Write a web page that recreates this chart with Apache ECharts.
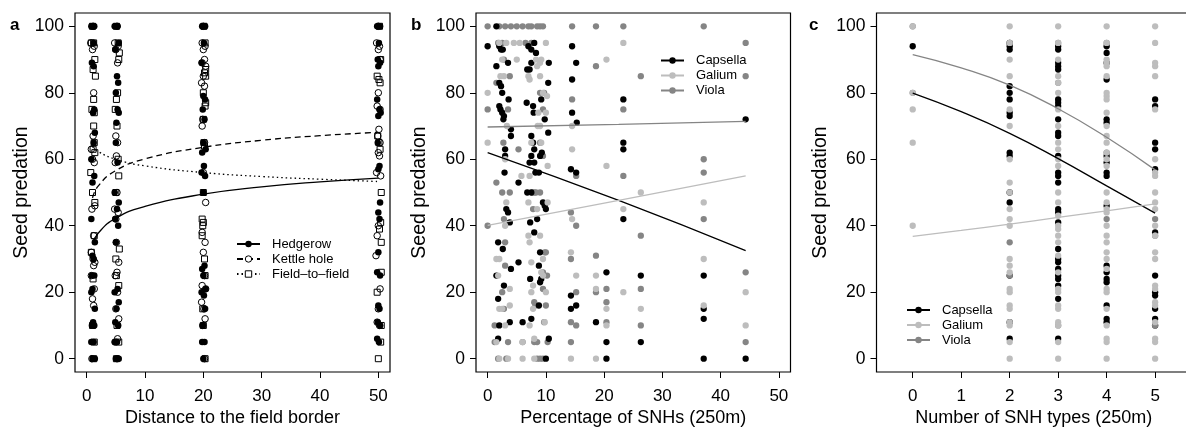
<!DOCTYPE html>
<html>
<head>
<meta charset="utf-8">
<script src="https://cdn.jsdelivr.net/npm/echarts@6/dist/echarts.min.js"></script>
<style>html,body{margin:0;padding:0;background:#fff}#c{width:1186px;height:428px}</style>
</head>
<body>
<div id="c"></div>
<script>
// ---------- tick labels ----------
const xTicksA = [0, 10, 20, 30, 40, 50];
const xTicksB = [0, 10, 20, 30, 40, 50];
const xTicksC = [0, 1, 2, 3, 4, 5];
const yTicks = [0, 20, 40, 60, 80, 100];

// ---------- panel a: points (distance, predation) ----------
const hedgerowPts = [
 [1.0,100],[1.3,100],[0.8,100],[1.2,95],[0.9,89],[1.2,88],[1.3,75],[1.1,74],[1.4,68],[1.2,65],[0.8,60],[1.3,55],[1.0,53],[0.8,42],[1.4,35],[1.0,31],[1.2,30],[0.9,25],[1.3,25],[1.0,21],[0.8,20],[1.4,15],[1.1,11],[1.3,10],[0.9,10],[1.2,5],[0.8,5],[1.0,0],[1.4,0],
 [4.8,100],[5.3,100],[5.5,95],[4.9,93],[5.2,85],[5.4,83],[5.0,80],[5.3,75],[5.5,74],[5.1,71],[5.0,65],[5.3,59],[4.8,50],[5.5,47],[5.2,45],[4.9,42],[5.4,40],[5.0,35],[5.3,21],[4.8,20],[5.5,17],[5.1,15],[4.9,11],[5.4,10],[5.2,5],[4.8,5],[5.0,0],[5.5,0],
 [19.8,100],[20.3,100],[20.1,95],[19.7,89],[20.0,79],[20.3,78],[19.9,75],[20.2,72],[20.0,65],[20.4,63],[19.8,62],[20.1,58],[19.7,56],[20.3,55],[20.0,50],[20.2,28],[19.8,27],[20.0,25],[20.4,21],[19.7,20],[20.1,19],[20.3,15],[19.9,10],[20.2,5],[19.8,5],[20.0,0],
 [49.8,100],[50.3,100],[50.1,95],[49.9,90],[50.3,89],[50.0,88],[49.8,78],[50.2,75],[50.4,74],[50.0,73],[49.9,65],[50.2,58],[50.0,57],[50.3,47],[50.0,44],[50.2,42],[50.0,32],[49.8,26],[50.3,25],[50.0,16],[50.2,15],[49.9,11],[50.3,10],[49.8,6],[50.1,5]
];
const kettlePts = [
 [1.1,100],[0.7,95],[1.3,94],[1.0,93],[1.2,80],[1.1,67],[0.8,63],[1.0,60],[1.3,59],[1.4,46],[0.9,45],[1.2,37],[0.8,32],[1.1,30],[1.4,29],[1.2,28],[0.8,25],[1.3,21],[1.0,18],[1.2,16],[0.9,0],
 [5.2,100],[4.8,95],[5.4,94],[5.0,93],[5.3,89],[5.0,67],[5.3,65],[5.1,61],[4.9,59],[5.2,50],[4.8,45],[5.4,44],[5.0,42],[5.1,35],[5.5,29],[5.2,26],[4.9,25],[5.3,20],[5.0,15],[5.5,12],[5.3,6],[4.9,5],[5.2,0],
 [20.0,100],[19.8,95],[20.3,94],[20.0,93],[20.2,90],[19.8,89],[20.4,88],[20.0,85],[19.7,83],[20.2,82],[19.9,72],[19.8,70],[20.2,65],[20.0,56],[20.4,47],[19.8,38],[20.3,35],[20.0,32],[20.2,25],[19.8,22],[20.4,21],[19.7,17],[20.1,15],[20.3,12],[19.9,10],[20.2,0],
 [50.0,100],[49.7,95],[50.2,94],[50.0,93],[50.3,90],[50.0,80],[49.8,76],[50.3,75],[50.1,69],[49.9,67],[50.3,65],[50.0,62],[50.2,61],[49.7,56],[50.4,55],[50.0,40],[49.8,37],[49.6,31],[50.3,21],[50.0,15],[49.8,11],[50.2,10]
];
const fieldPts = [
 [1.0,100],[0.8,95],[1.2,95],[1.4,90],[1.1,87],[1.5,85],[1.2,78],[0.9,75],[1.3,74],[1.2,70],[1.3,65],[1.1,63],[1.4,62],[0.7,56],[1.0,50],[1.4,47],[1.3,37],[0.8,32],[1.1,24],[1.0,10],[1.3,5],[1.2,0],
 [5.1,100],[5.4,95],[5.6,92],[5.5,90],[5.3,80],[5.1,78],[4.9,75],[5.2,70],[5.4,60],[5.5,55],[5.0,50],[5.6,33],[5.0,30],[5.1,25],[5.5,22],[5.2,10],[5.5,5],[5.1,0],
 [20.1,100],[20.3,95],[20.4,87],[20.2,86],[20.4,85],[20.0,80],[20.4,77],[20.3,76],[20.0,72],[20.1,65],[20.2,64],[20.0,50],[19.8,42],[20.0,41],[19.9,40],[19.8,37],[20.2,30],[20.3,25],[19.9,15],[20.0,10],[20.3,0],
 [50.2,100],[50.4,90],[49.8,85],[50.1,84],[50.3,83],[49.9,67],[50.1,65],[50.3,63],[50.5,50],[50.4,41],[50.2,39],[50.5,35],[50.5,26],[49.8,20],[50.5,10],[50.4,5],[50.0,0]
];
// panel a fitted curves
const hedgerowCurve = [[1,34.5],[2,37.8],[5,42.3],[10,45.8],[20,49.5],[30,51.7],[40,53.2],[50,54.3]];
const kettleCurve   = [[1,48.4],[2,52.0],[5,56.6],[10,60.1],[20,63.6],[30,65.7],[40,67.1],[50,68.1]];
const fieldCurve    = [[1,63.8],[2,62.3],[5,60.0],[10,58.0],[20,56.0],[30,54.8],[40,54.0],[50,53.3]];

// ---------- panel b: points (% SNH, predation) ----------
const capsellaB = [
 [0,94],[1.5,100],[1.5,88],[1.5,25],[1.8,18],[2.0,94],[2.3,93],[2.6,93],[2.0,83],[2.3,82],[2.5,80],[2.0,76],[2.2,75],[2.5,74],[2.8,73],[2.7,72],[3.0,63],[3.0,61],[2.9,56],[3.5,89],[3.6,78],[4.0,69],[4.0,67],[3.2,45],[3.5,44],[3.8,41],[1.8,35],[2.6,33],[2.8,22],[4.0,27],[5.3,29],[5.3,53],[2.0,10],[3.8,11],[6.0,11],[1.8,6],
 [6.7,77],[6.8,87],[7.2,87],[7.5,89],[7.0,94],[7.5,93],[8.0,95],[8.3,92],[7.5,67],[7.8,65],[8.0,63],[7.5,61],[7.2,59],[8.0,59],[7.8,76],[7.9,74],[8.2,56],[8.8,56],[6.8,50],[7.5,50],[7.3,41],[8.5,42],[8.0,38],[9.2,78],[9.3,62],[9.0,61],[9.5,47],[9.8,46],[10.0,45],[9.8,72],[10.4,68],[10.5,89],[10.4,83],[9.0,32],[8.8,28],[9.2,24],[9.0,23],[7.3,24],[8.8,16],[7.5,12],[10.5,6],[10.0,0],
 [14.5,94],[14.5,84],[14.5,74],[14.3,57],[14.3,19],[14.3,15],[15.2,89],[15.3,71],[15.2,56],[15.2,16],[18.6,11],[20.4,26],[20.4,5],[20.4,0],[23.3,78],[23.3,65],[23.3,63],[23.3,42],[26.3,25],[26.3,5],[37.1,25],[37.1,15],[37.1,12],[37.1,0],[44.3,72],[44.3,0]
];
const galiumB = [
 [0,80],[0,65],[1.5,30],[1.8,25],[2.0,15],[1.5,5],[2.0,95],[2.5,90],[3.2,95],[2.8,85],[2.2,85],[3.3,70],[3.0,60],[3.2,47],[3.0,40],[2.0,30],[3.8,21],[3.8,16],[2.5,15],[3.0,10],[2.0,0],[3.5,0],[4.5,95],[5.0,90],[5.5,95],[5.8,55],[6.0,0],[6.0,5],
 [7.0,85],[7.2,84],[7.5,65],[7.2,55],[7.0,47],[7.0,37],[7.2,35],[7.5,29],[7.8,22],[7.5,20],[7.8,15],[7.2,10],[8.0,6],[8.0,0],[8.3,90],[8.5,88],[9.0,89],[9.2,90],[9.0,85],[8.7,74],[9.0,70],[8.6,70],[9.2,65],[8.5,45],[9.0,37],[9.5,30],[9.2,26],[9.5,80],[10.2,79],[10.0,74],[10.3,58],[10.3,47],[10.0,20],[9.5,25],[9.8,11],[10.0,95],
 [14.5,70],[14.5,63],[14.5,42],[14.3,32],[14.3,0],[15.2,25],[18.6,25],[18.6,21],[18.6,0],[20.4,90],[20.4,58],[20.4,15],[20.4,10],[23.3,95],[23.3,45],[23.3,20],[26.3,50],[26.3,15],[37.1,47],[37.1,30],[37.1,16],[44.3,20],[44.3,10]
];
const violaB = [
 [0,100],[0,75],[0,40],[1.5,83],[1.5,53],[1.2,10],[1.2,5],[1.8,0],[2.0,100],[1.8,95],[2.5,95],[2.8,90],[3.0,100],[2.7,65],[2.5,50],[2.8,42],[3.0,35],[3.0,28],[2.5,20],[2.8,15],[3.5,75],[3.8,85],[3.8,50],[3.5,5],[3.2,0],[4.0,100],[5.0,100],[5.3,63],[6.0,100],[6.0,5],[6.5,95],
 [7.0,100],[7.5,100],[7.5,95],[7.7,50],[8.0,50],[8.3,50],[7.8,45],[8.0,17],[8.2,16],[8.0,5],[8.5,5],[8.5,0],[9.0,0],[8.5,100],[9.0,100],[9.5,100],[9.0,80],[9.7,80],[9.5,75],[9.0,65],[9.5,61],[9.0,50],[9.8,32],[10.0,32],[9.5,26],[10.2,25],[9.5,21],[10.0,16],[9.7,11],[10.3,5],[9.5,0],
 [14.5,100],[14.5,78],[14.3,44],[14.3,30],[14.3,11],[14.3,5],[15.2,55],[15.2,40],[15.2,20],[15.2,10],[18.6,100],[18.6,88],[18.6,31],[18.6,20],[20.4,21],[20.4,17],[20.4,11],[23.3,100],[23.3,75],[23.3,55],[26.3,85],[26.3,37],[26.3,21],[26.3,10],[37.1,100],[37.1,60],[37.1,56],[37.1,42],[44.3,95],[44.3,85],[44.3,26],[44.3,5]
];
const capsellaLineB = [[0,62.0],[22.5,47.6],[44.3,32.5]];
const galiumLineB   = [[0,40.1],[22.5,47.6],[44.3,55.0]];
const violaLineB    = [[0,69.7],[22.5,70.5],[44.3,71.4]];

// ---------- panel c: points (number of SNH types, predation) ----------
const capsellaC = [
 [0,94],[2,95],[2,94],[2,93],[2,82],[2,80],[2,78],[2,74],[2,73],[2,62],[2,61],[2,50],[2,47],[2,25],[2,11],[2,6],
 [3,94],[3,93],[3,89],[3,88],[3,87],[3,78],[3,77],[3,76],[3,72],[3,68],[3,67],[3,61],[3,56],[3,55],[3,53],[3,45],[3,44],[3,41],[3,33],[3,30],[3,29],[3,27],[3,25],[3,24],[3,22],[3,18],[3,6],
 [4,94],[4,92],[4,89],[4,84],[4,72],[4,71],[4,61],[4,59],[4,56],[4,55],[4,46],[4,28],[4,26],[4,24],[4,23],[4,16],[4,12],[4,11],
 [5,78],[5,76],[5,65],[5,63],[5,57],[5,38],[5,25],[5,20],[5,19],[5,15],[5,12],[5,10]
];
const galiumC = [
 [0,100],[0,80],[0,75],[0,65],[0,40],
 [2,100],[2,95],[2,90],[2,85],[2,75],[2,70],[2,60],[2,53],[2,50],[2,45],[2,42],[2,40],[2,30],[2,28],[2,26],[2,21],[2,20],[2,16],[2,15],[2,11],[2,10],[2,5],[2,0],
 [3,100],[3,95],[3,90],[3,85],[3,83],[3,80],[3,75],[3,70],[3,65],[3,63],[3,60],[3,58],[3,50],[3,47],[3,43],[3,40],[3,39],[3,37],[3,35],[3,31],[3,26],[3,21],[3,20],[3,16],[3,15],[3,11],[3,10],[3,5],[3,0],
 [4,100],[4,95],[4,90],[4,89],[4,88],[4,85],[4,80],[4,79],[4,78],[4,74],[4,70],[4,67],[4,65],[4,62],[4,60],[4,58],[4,50],[4,47],[4,45],[4,44],[4,40],[4,37],[4,35],[4,32],[4,30],[4,27],[4,21],[4,20],[4,15],[4,10],[4,6],[4,5],[4,0],
 [5,100],[5,95],[5,89],[5,88],[5,85],[5,75],[5,60],[5,56],[5,55],[5,50],[5,47],[5,45],[5,40],[5,37],[5,32],[5,30],[5,22],[5,21],[5,17],[5,16],[5,11],[5,6],[5,5],[5,0]
];
const violaC = [[0,100],[0,80],[2,95],[2,35],[2,25],[3,95],[3,83],[3,10],[4,95],[4,62],[4,42],[5,42],[5,37],[5,10]];
const capsellaLineC = [[0,79.9],[1,74.3],[2,67.8],[3,60.2],[4,52.0],[5,43.8]];
const galiumLineC   = [[0,36.8],[1,38.6],[2,40.5],[3,42.5],[4,44.5],[5,46.6]];
const violaLineC    = [[0,91.5],[1,87.5],[2,82.3],[3,75.2],[4,66.6],[5,56.8]];

// ---------- styling ----------
const FONT = 'Liberation Sans';
const BLACK = '#000000', LIGHT = '#bdbdbd', MID = '#858585';

const grids = [
  {left: 75, top: 13, width: 315, height: 359},
  {left: 476, top: 13, width: 314.5, height: 359},
  {left: 876.5, top: 13, width: 314.5, height: 359}
];

function xAxisDef(gi, min, max, ticks, name) {
  return {
    type: 'value', gridIndex: gi, min: min, max: max,
    splitLine: {show: false}, axisLine: {show: false, onZero: false},
    axisTick: {show: true, inside: false, length: 6, customValues: ticks, lineStyle: {color: BLACK, width: 1}},
    axisLabel: {customValues: ticks, color: BLACK, fontSize: 17, fontFamily: FONT, margin: 16},
    name: name, nameLocation: 'middle', nameGap: 37, nameMoveOverlap: false,
    nameTextStyle: {color: BLACK, fontSize: 18, fontFamily: FONT}
  };
}
function yAxisDef(gi, gap) {
  return {
    type: 'value', gridIndex: gi, min: -4, max: 104,
    splitLine: {show: false}, axisLine: {show: false, onZero: false},
    axisTick: {show: true, inside: false, length: 6, customValues: yTicks, lineStyle: {color: BLACK, width: 1}},
    axisLabel: {customValues: yTicks, color: BLACK, fontSize: 17.5, fontFamily: FONT, margin: 11},
    name: 'Seed predation', nameLocation: 'middle', nameGap: gap, nameRotate: 90, nameMoveOverlap: false,
    nameTextStyle: {color: BLACK, fontSize: 19.5, fontFamily: FONT}
  };
}
function scatter(name, xi, data, symbol, size, style) {
  return {type: 'scatter', name: name, xAxisIndex: xi, yAxisIndex: xi, data: data,
          symbol: symbol, symbolSize: size, itemStyle: Object.assign({opacity: 1}, style), silent: true, animation: false};
}
function curve(name, xi, data, color, type, symbol) {
  return {type: 'line', name: name, xAxisIndex: xi, yAxisIndex: xi, data: data, smooth: true,
          showSymbol: false, symbol: symbol, symbolSize: 6,
          itemStyle: {color: color},
          lineStyle: {color: color, width: 1.3, type: type}, silent: true, animation: false};
}
function legendDef(names, left, top) {
  return {
    data: names, orient: 'vertical', left: left, top: top, padding: 0,
    itemWidth: 23, itemHeight: 8, itemGap: 2, selectedMode: false,
    textStyle: {color: BLACK, fontSize: 13, fontFamily: FONT, padding: [0, 0, 0, 7]}
  };
}
const openIcon = {color: '#ffffff', borderColor: BLACK, borderWidth: 1};

const chart = echarts.init(document.getElementById('c'), null, {renderer: 'canvas'});
chart.setOption({
  animation: false,
  backgroundColor: '#fff',
  textStyle: {fontFamily: FONT},
  title: [
    {text: 'a', left: 5, top: 12, textStyle: {fontSize: 17, fontWeight: 'bold', color: BLACK, fontFamily: FONT}},
    {text: 'b', left: 406, top: 12, textStyle: {fontSize: 17, fontWeight: 'bold', color: BLACK, fontFamily: FONT}},
    {text: 'c', left: 804, top: 12, textStyle: {fontSize: 17, fontWeight: 'bold', color: BLACK, fontFamily: FONT}}
  ],
  grid: grids.map(g => Object.assign({show: true, borderColor: BLACK, borderWidth: 1.2, backgroundColor: 'transparent',
                                       outerBoundsMode: 'none', containLabel: false}, g)),
  xAxis: [
    xAxisDef(0, -2, 52, xTicksA, 'Distance to the field border'),
    xAxisDef(1, -2, 52, xTicksB, 'Percentage of SNHs (250m)'),
    xAxisDef(2, -0.747, 5.74, xTicksC, 'Number of SNH types (250m)')
  ],
  yAxis: [yAxisDef(0, 43), yAxisDef(1, 46), yAxisDef(2, 46)],
  legend: [
    legendDef(['Hedgerow', {name: 'Kettle hole', itemStyle: openIcon}, {name: 'Field\u2013to\u2013field', itemStyle: openIcon}], 236, 237.5),
    legendDef(['Capsella', 'Galium', 'Viola'], 660, 54),
    legendDef(['Capsella', 'Galium', 'Viola'], 906, 303.5)
  ],
  series: [
    scatter('hedgerow points', 0, hedgerowPts, 'circle', 6.5, {color: BLACK}),
    scatter('kettle points', 0, kettlePts, 'circle', 6.5, {color: 'rgba(0,0,0,0)', borderColor: BLACK, borderWidth: 1}),
    scatter('field points', 0, fieldPts, 'rect', 6, {color: 'rgba(0,0,0,0)', borderColor: BLACK, borderWidth: 1}),
    curve('Hedgerow', 0, hedgerowCurve, BLACK, 'solid', 'circle'),
    curve('Kettle hole', 0, kettleCurve, BLACK, [6, 4], 'circle'),
    curve('Field\u2013to\u2013field', 0, fieldCurve, BLACK, [1.5, 3], 'rect'),

    scatter('viola b', 1, violaB, 'circle', 6.3, {color: MID}),
    scatter('capsella b', 1, capsellaB, 'circle', 6.3, {color: BLACK}),
    scatter('galium b', 1, galiumB, 'circle', 6.3, {color: LIGHT}),
    curve('Capsella', 1, capsellaLineB, BLACK, 'solid', 'circle'),
    curve('Galium', 1, galiumLineB, LIGHT, 'solid', 'circle'),
    curve('Viola', 1, violaLineB, MID, 'solid', 'circle'),

    scatter('capsella c', 2, capsellaC, 'circle', 6.3, {color: BLACK}),
    scatter('viola c', 2, violaC, 'circle', 6.3, {color: MID}),
    scatter('galium c', 2, galiumC, 'circle', 6.3, {color: LIGHT}),
    curve('Capsella', 2, capsellaLineC, BLACK, 'solid', 'circle'),
    curve('Galium', 2, galiumLineC, LIGHT, 'solid', 'circle'),
    curve('Viola', 2, violaLineC, MID, 'solid', 'circle')
  ]
});
</script>
</body>
</html>
